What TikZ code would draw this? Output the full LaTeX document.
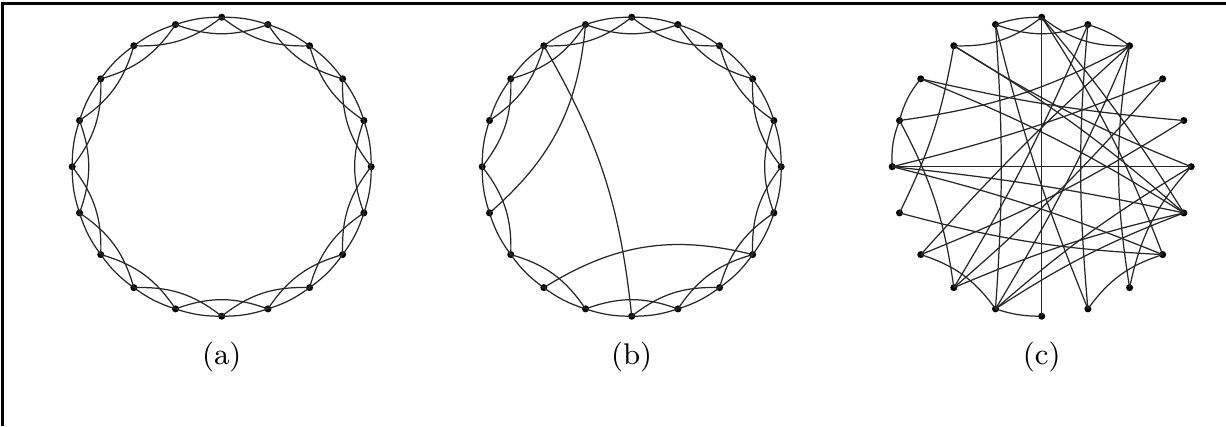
\documentclass[tikz,border=0pt]{standalone}
\begin{document}
\begin{tikzpicture}[x=0.01cm,y=-0.01cm,
  edge/.style={line width=0.35pt, black!85},
  dot/.style={circle,fill=black,inner sep=0pt,minimum size=2pt},
  lab/.style={font=\fontsize{8.5}{10}\selectfont}]
\useasboundingbox (0,0) rectangle (1226,426);
\draw[line width=0.6pt] (2.5,426) -- (2.5,3.5) -- (1226,3.5);
\foreach \p/\cx in {a/221.7,b/631.7,c/1041.7}
  \foreach \i in {0,...,19}
    \node[dot] (\p\i) at ({\cx+149.5*cos(90-18*\i)},{166.7-149.5*sin(90-18*\i)}) {};
% panel a
\foreach \i [evaluate=\i as \j using {int(mod(\i+1,20))}, evaluate=\i as \k using {int(mod(\i+2,20))}] in {0,...,19} {
  \draw[edge] (a\i.center) to[bend left=9] (a\j.center);
  \draw[edge] (a\i.center) to[bend right=20] (a\k.center);
}
% panel b
\foreach \i [evaluate=\i as \j using {int(mod(\i+1,20))}] in {0,...,19}
  \draw[edge] (b\i.center) to[bend left=9] (b\j.center);
\foreach \i/\k in {0/2,1/3,2/4,3/5,4/6,5/7,6/8,7/9,8/10,9/11,11/13,13/15,15/17,16/18,17/19,18/0,19/1}
  \draw[edge] (b\i.center) to[bend right=20] (b\k.center);
\draw[edge] (b19.center) to[bend left=22] (b14.center);
\draw[edge] (b18.center) to[bend left=12] (b10.center);
\draw[edge] (b12.center) to[bend left=23] (b7.center);
% panel c
\foreach \i/\k/\b in {19/0/9,1/2/9,16/17/12,15/16/12,10/11/9}
  \draw[edge] (c\i.center) to[bend left=\b] (c\k.center);
\foreach \i/\k/\b in {19/1/20,18/0/20,0/2/20,11/13/18,7/9/18}
  \draw[edge] (c\i.center) to[bend right=\b] (c\k.center);
\draw[edge] (c15.center) -- (c5.center);
\draw[edge] (c0.center) -- (c10.center);
\foreach \i/\k/\b in {1/9/5,2/8/9,16/2/10,17/4/4,18/5/5,12/1/4,11/2/4,14/7/6,5/8/15,19/9/4,15/3/4}
  \draw[edge] (c\i.center) to[bend right=\b] (c\k.center);
\foreach \i/\k/\b in {19/11/4,18/14/8,16/12/10,15/6/3,15/7/4,17/6/5,18/6/5,12/6/5,13/2/3,11/5/5,3/12/4,0/7/6,11/6/6,4/13/5,0/6/4}
  \draw[edge] (c\i.center) to[bend left=\b] (c\k.center);
\node[lab] (la) at (221.7,357) {(a)};
\node[lab] (lb) at (631.7,357) {(b)};
\node[lab] (lc) at (1041.7,357) {(c)};
\end{tikzpicture}
\end{document}
